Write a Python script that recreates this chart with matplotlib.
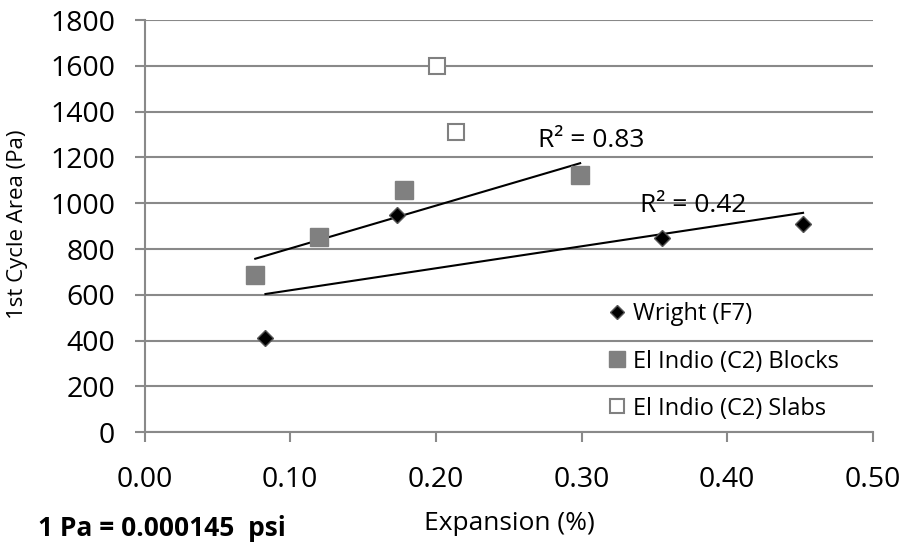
import numpy as np
import matplotlib.pyplot as plt

plt.rcParams['font.family'] = ['Open Sans', 'DejaVu Sans']

# data
wright_x = [0.083, 0.173, 0.355, 0.452]
wright_y = [412, 950, 847, 908]
blocks_x = [0.076, 0.120, 0.178, 0.299]
blocks_y = [687, 854, 1058, 1122]
slabs_x = [0.201, 0.214]
slabs_y = [1601, 1313]

xticks = [0.0, 0.1, 0.2, 0.3, 0.4, 0.5]
yticks = [0, 200, 400, 600, 800, 1000, 1200, 1400, 1600, 1800]

grid_c = '#898989'

fig = plt.figure(figsize=(9.09, 5.47), dpi=100)
ax = fig.add_axes([0.159, 0.2097, 0.8014, 0.7537])

ax.plot(wright_x, wright_y, 'D', ms=8.5, color='black', mec='#555555', mew=1, label='Wright (F7)', zorder=3)
ax.plot(blocks_x, blocks_y, 's', ms=13.2, color='#808080', mec='#808080', label='El Indio (C2) Blocks', zorder=3)
ax.plot(slabs_x, slabs_y, 's', ms=11.5, mfc='white', mec='#808080', mew=1.5, label='El Indio (C2) Slabs', zorder=3)

# linear trendlines
for xs, ys in [(blocks_x, blocks_y), (wright_x, wright_y)]:
    k, b = np.polyfit(xs, ys, 1)
    xx = np.array([min(xs), max(xs)])
    ax.plot(xx, k * xx + b, color='black', lw=1.5, zorder=2)

ax.text(0.3065, 1246, 'R² = 0.83', fontsize=19, ha='center', va='baseline')
ax.text(0.3768, 963, 'R² = 0.42', fontsize=19, ha='center', va='baseline')

ax.set_xlim(0, 0.5)
ax.set_ylim(0, 1800)
ax.set_xticks(xticks)
ax.set_xticklabels([f'{t:.2f}' for t in xticks])
ax.set_yticks(yticks)
ax.tick_params(labelsize=20.5, color=grid_c, width=1.5, length=7, direction='out')
ax.tick_params(axis='x', pad=17)
ax.tick_params(axis='y', pad=14)
ax.grid(axis='y', color=grid_c, lw=1.5)
ax.set_axisbelow(True)
for s in ['top', 'right']:
    ax.spines[s].set_visible(False)
for s in ['left', 'bottom']:
    ax.spines[s].set_color(grid_c)
    ax.spines[s].set_linewidth(1.5)

fig.text(18 / 909, 1 - 224 / 547, '1st Cycle Area (Pa)', fontsize=16, rotation=90,
         ha='center', va='center')
fig.text(509 / 909, 1 - 524 / 547, 'Expansion (%)', fontsize=19, ha='center', va='center')

leg = ax.legend(loc='upper left', bbox_to_anchor=(0.637, 0.315), frameon=False,
                fontsize=17, labelspacing=0.98, handlelength=0.7, handletextpad=0.35,
                borderaxespad=0, borderpad=0, markerscale=0.82)

fig.text(38 / 909, 1 - 528 / 547, '1 Pa = 0.000145  psi', fontsize=19, fontweight='bold',
         ha='left', va='center')

fig.savefig('out.png', dpi=100)
